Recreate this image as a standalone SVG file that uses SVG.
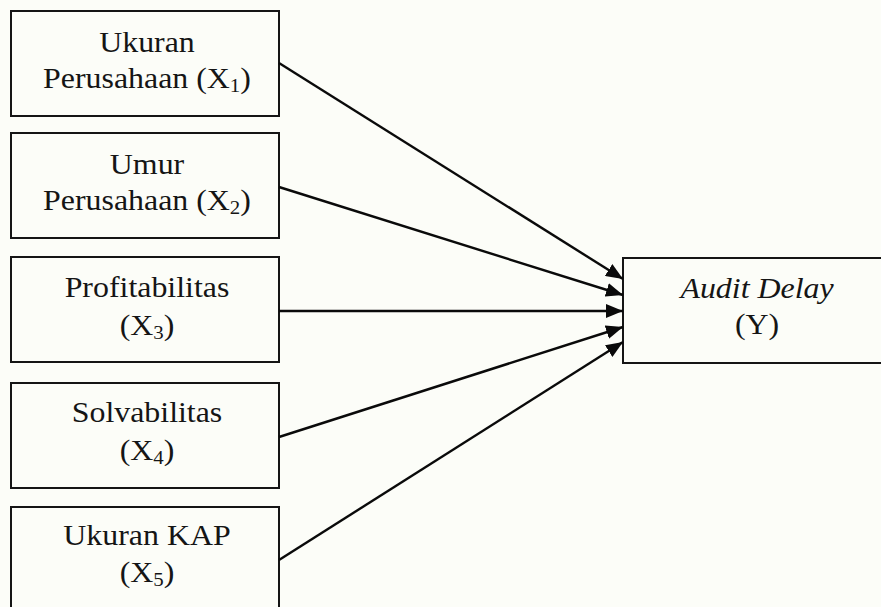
<svg xmlns="http://www.w3.org/2000/svg" width="881" height="607" viewBox="0 0 881 607">
<style>
.box{fill:#fcfdf8;stroke:#151515;stroke-width:2}
.t{font-family:"Liberation Serif","Times New Roman",serif;font-size:29px;fill:#151515;text-anchor:middle}
.sub{font-size:19px}
.conn{stroke:#0a0a0a;stroke-width:2.4;fill:none;marker-end:url(#ah)}
</style>
<defs>
<marker id="ah" markerUnits="userSpaceOnUse" markerWidth="18" markerHeight="14" refX="17" refY="7" orient="auto">
<path d="M0,0 L17,7 L0,14 z" fill="#0a0a0a"/>
</marker>
</defs>
<rect width="881" height="607" fill="#fcfdf8"/>
<g id="n1">
<rect class="box" x="11" y="11" width="268" height="105"/>
<text class="t" transform="translate(147,52) scale(1.1,1)">Ukuran</text>
<text class="t" transform="translate(147,88) scale(1.1,1)">Perusahaan (X<tspan class="sub" dy="4">1</tspan><tspan dy="-4">)</tspan></text>
</g>
<g id="n2">
<rect class="box" x="11" y="133" width="268" height="105"/>
<text class="t" transform="translate(147,174) scale(1.1,1)">Umur</text>
<text class="t" transform="translate(147,210) scale(1.1,1)">Perusahaan (X<tspan class="sub" dy="4">2</tspan><tspan dy="-4">)</tspan></text>
</g>
<g id="n3">
<rect class="box" x="11" y="257" width="268" height="105"/>
<text class="t" transform="translate(147,297) scale(1.1,1)">Profitabilitas</text>
<text class="t" transform="translate(147,335) scale(1.1,1)">(X<tspan class="sub" dy="4">3</tspan><tspan dy="-4">)</tspan></text>
</g>
<g id="n4">
<rect class="box" x="11" y="383" width="268" height="105"/>
<text class="t" transform="translate(147,422) scale(1.1,1)">Solvabilitas</text>
<text class="t" transform="translate(147,460) scale(1.1,1)">(X<tspan class="sub" dy="4">4</tspan><tspan dy="-4">)</tspan></text>
</g>
<g id="n5">
<rect class="box" x="11" y="507" width="268" height="105"/>
<text class="t" transform="translate(147,545) scale(1.1,1)">Ukuran KAP</text>
<text class="t" transform="translate(147,582) scale(1.1,1)">(X<tspan class="sub" dy="4">5</tspan><tspan dy="-4">)</tspan></text>
</g>
<g id="ny">
<rect class="box" x="623" y="258" width="268" height="105"/>
<text class="t" font-style="italic" transform="translate(757,298) scale(1.1,1)">Audit Delay</text>
<text class="t" transform="translate(757,334) scale(1.1,1)">(Y)</text>
</g>
<g id="connectors">
<line class="conn" x1="279" y1="63" x2="623" y2="279"/>
<line class="conn" x1="279" y1="187" x2="623" y2="295"/>
<line class="conn" x1="279" y1="311" x2="623" y2="311"/>
<line class="conn" x1="279" y1="437" x2="623" y2="327"/>
<line class="conn" x1="279" y1="560" x2="623" y2="342"/>
</g>
</svg>
